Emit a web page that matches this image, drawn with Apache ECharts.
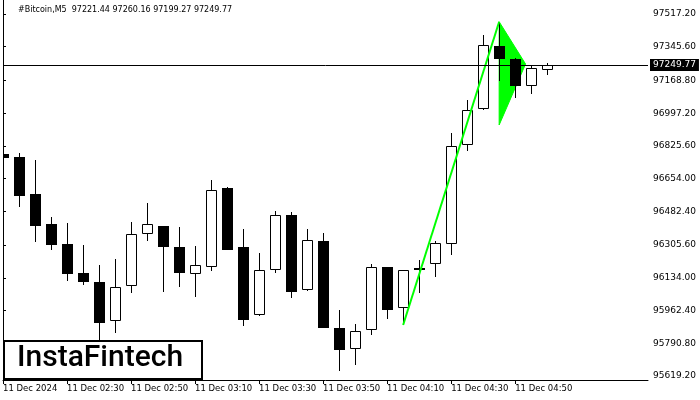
<!DOCTYPE html>
<html>
<head>
<meta charset="utf-8">
<script src="https://cdn.jsdelivr.net/npm/echarts@6/dist/echarts.min.js"></script>
<style>html,body{margin:0;padding:0;background:#fff}#c{width:700px;height:400px}</style>
</head>
<body>
<div id="c"></div>
<script>
// bar times (M5), index 0..34
const times = ['02:10','02:15','02:20','02:25','02:30','02:35','02:40','02:45','02:50','02:55','03:00','03:05','03:10','03:15','03:20','03:25','03:30','03:35','03:40','03:45','03:50','03:55','04:00','04:05','04:10','04:15','04:20','04:25','04:30','04:35','04:40','04:45','04:50','04:55','05:00'];
const opens  = [96781.6,96767.5,96575.0,96416.2,96311.3,96159.3,96112.1,95906.0,96091.1,96362.2,96404.1,96295.7,96152.4,96189.2,96604.9,96295.6,95937.5,96173.4,96462.3,96068.6,96326.0,95869.3,95759.2,95858.8,96189.2,95974.2,96183.0,96204.9,96309.7,96828.8,97017.6,97349.4,97281.3,97138.1,97221.44];
const highs  = [96861.8,96790.0,96751.7,96452.9,96421.4,96306.1,96201.2,96232.7,96426.6,96526.3,96406.0,96400.5,96300.8,96646.9,96608.0,96390.0,96264.1,96484.3,96478.0,96390.0,96368.0,95965.3,95891.9,96206.4,96190.5,96175.0,96227.4,96328.6,96893.3,97066.3,97407.1,97476.8,97284.9,97244.6,97260.16];
const lows   = [96721.8,96506.9,96323.4,96279.9,96118.9,96096.4,95790.0,95843.1,96056.0,96328.6,96061.8,96087.6,96035.1,96168.2,96278.0,95884.0,95935.0,96161.9,96030.8,96066.0,95870.0,95647.0,95678.5,95835.8,95919.7,95886.6,96056.0,96139.9,96253.6,96800.5,97015.0,97167.5,97078.4,97099.3,97199.27];
const closes = [96760.6,96564.5,96407.3,96307.7,96155.6,96113.7,95898.7,96084.3,96362.2,96414.6,96294.2,96161.0,96199.6,96592.9,96281.4,95914.4,96173.9,96462.3,96061.2,96330.7,95872.5,95758.2,95853.6,96189.2,95967.9,96173.4,96179.0,96315.0,96823.6,97013.9,97353.1,97282.8,97141.3,97232.5,97249.77];

// pennant pattern
const poleX = [25, 31];
const poleY = [95886.6, 97476.8];
const flagX = [31, 31, 32.65];
const flagY = [97476.8, 96935.2, 97255.0];

// axes
const yTicks = [95619.20,95790.80,95962.40,96134.00,96305.60,96482.40,96654.00,96825.60,96997.20,97168.80,97345.60,97517.20];
const xTickPos = [0,4,8,12,16,20,24,28,32];
const xTickLabels = ['11 Dec 2024','11 Dec 02:30','11 Dec 02:50','11 Dec 03:10','11 Dec 03:30','11 Dec 03:50','11 Dec 04:10','11 Dec 04:30','11 Dec 04:50'];
const lastPrice = 97249.77;
const header = '#Bitcoin,M5  97221.44 97260.16 97199.27 97249.77';
const yMin = 95598.3, yMax = 97590.6;

const candleData = times.map((t, i) => [i, opens[i], closes[i], lows[i], highs[i]]);

const chart = echarts.init(document.getElementById('c'), null, {renderer: 'canvas'});
chart.setOption({
  animation: false,
  backgroundColor: '#ffffff',
  grid: {left: 3, right: 52, top: 0, bottom: 20, show: false},
  xAxis: {
    type: 'value', min: 0, max: 40.3,
    axisLine: {show: true, lineStyle: {color: '#000', width: 1}},
    axisTick: {show: true, customValues: xTickPos, length: 4, lineStyle: {color: '#000'}},
    axisLabel: {customValues: xTickPos, formatter: v => xTickLabels[xTickPos.indexOf(v)] || '',
      align: 'left', color: '#000', fontFamily: 'DejaVu Sans', fontSize: 8.5, margin: 4},
    splitLine: {show: false}
  },
  yAxis: [{
    type: 'value', position: 'right', min: yMin, max: yMax,
    axisLine: {show: true, lineStyle: {color: '#000', width: 1}},
    axisTick: {show: true, customValues: yTicks, length: 3, lineStyle: {color: '#000'}},
    axisLabel: {customValues: yTicks, formatter: v => v.toFixed(2), color: '#000',
      fontFamily: 'DejaVu Sans', fontSize: 9, margin: 5},
    splitLine: {show: false}
  }, {
    type: 'value', position: 'left', min: yMin, max: yMax,
    axisLine: {show: true, lineStyle: {color: '#000', width: 1}},
    axisTick: {show: false}, axisLabel: {show: false}, splitLine: {show: false}
  }],
  series: [
    {
      type: 'custom', name: 'flag', clip: true, z: 1,
      data: [0],
      renderItem: (params, api) => {
        const pts = flagX.map((x, i) => api.coord([x, flagY[i]]));
        return {type: 'polygon', shape: {points: pts}, style: {fill: '#00ff00', stroke: '#00ff00', lineWidth: 1}};
      }
    },
    {
      type: 'custom', name: 'candles', clip: true, z: 2,
      data: candleData,
      encode: {x: 0, y: [1, 2, 3, 4]},
      renderItem: (params, api) => {
        const x = api.value(0), o = api.value(1), c = api.value(2), l = api.value(3), h = api.value(4);
        const po = api.coord([x, o]), pc = api.coord([x, c]), pl = api.coord([x, l]), ph = api.coord([x, h]);
        const cx = Math.round(po[0]);
        const left = cx - 5;
        const top = Math.round(Math.min(po[1], pc[1]));
        const bot = Math.round(Math.max(po[1], pc[1]));
        const bull = c > o;
        const children = [{
          type: 'line',
          shape: {x1: cx + 0.5, y1: Math.round(ph[1]), x2: cx + 0.5, y2: Math.round(pl[1])},
          style: {stroke: '#000', lineWidth: 1}
        }];
        if (bull) {
          children.push({type: 'rect', shape: {x: left + 0.5, y: top + 0.5, width: 10, height: Math.max(bot - top - 1, 1)},
            style: {fill: '#fff', stroke: '#000', lineWidth: 1}});
        } else {
          children.push({type: 'rect', shape: {x: left, y: top, width: 11, height: Math.max(bot - top, 2)},
            style: {fill: '#000'}});
        }
        return {type: 'group', children};
      },
      markLine: {
        silent: true, symbol: 'none', animation: false,
        lineStyle: {color: '#000', width: 1, type: 'solid'},
        label: {show: true, position: 'end', formatter: lastPrice.toFixed(2), color: '#fff',
          backgroundColor: '#000', fontFamily: 'DejaVu Sans', fontSize: 9, padding: [2, 3, 1, 3], distance: 2},
        data: [{yAxis: lastPrice}]
      }
    },
    {
      type: 'line', name: 'pole', z: 3,
      data: poleX.map((x, i) => [x, poleY[i]]),
      symbol: 'none',
      lineStyle: {color: '#00ff00', width: 2}
    }
  ],
  graphic: [
    {type: 'text', left: 18, top: 6, z: 10,
      style: {text: header, fill: '#000', font: '8px "DejaVu Sans"'}},
    {type: 'rect', left: 3, top: 340, z: 10,
      shape: {width: 198, height: 38},
      style: {fill: '#fff', stroke: '#000', lineWidth: 2}},
    {type: 'text', left: 17, top: 343, z: 11,
      style: {text: 'InstaFintech', fill: '#000', font: '500 30px Roboto'}}
  ]
});
</script>
</body>
</html>
